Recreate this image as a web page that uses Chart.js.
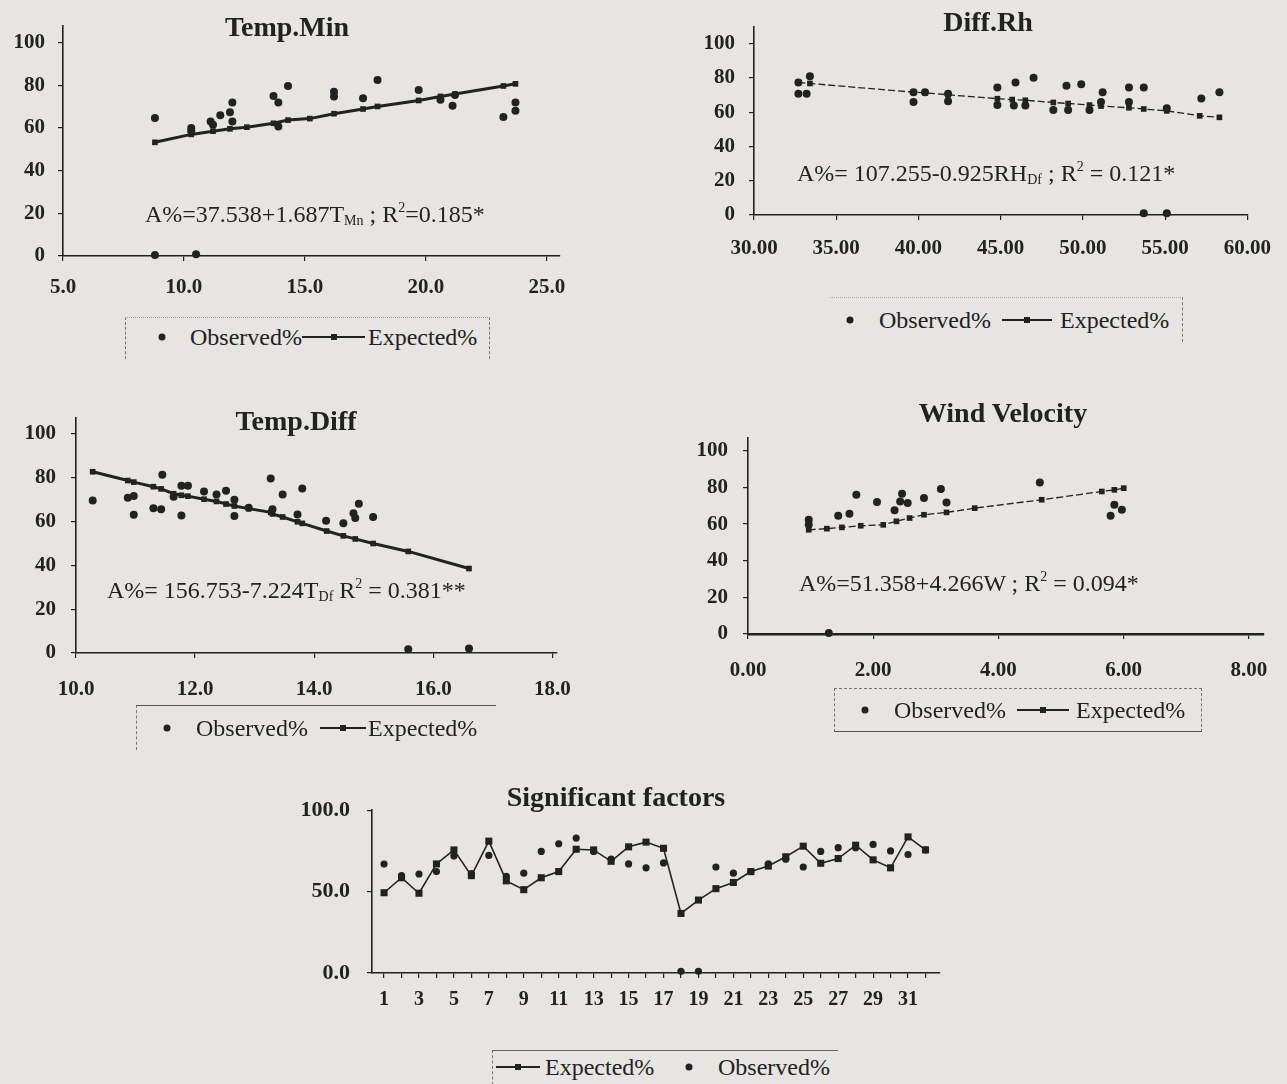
<!DOCTYPE html>
<html>
<head>
<meta charset="utf-8">
<script src="https://cdn.jsdelivr.net/npm/chart.js@4.4.1/dist/chart.umd.min.js"></script>
<style>
  body { margin: 0; background: #e7e5e1; }
  #page { position: relative; width: 1287px; height: 1084px; overflow: hidden;
          font-family: "Liberation Serif", "Times New Roman", serif; color: #222; }
  canvas { position: absolute; }
  .title { position: absolute; font-weight: bold; font-size: 28px; line-height: 1;
           transform: translate(-50%, -50%); white-space: nowrap; }
  .eq { position: absolute; font-size: 24px; line-height: 1; white-space: nowrap; transform: translateY(-50%); }
  .eq sub { font-size: 14px; vertical-align: -3px; }
  .eq sup { font-size: 14px; vertical-align: 10px; }
  .box { position: absolute; box-sizing: border-box; }
  .txt { position: absolute; font-size: 24px; line-height: 1; white-space: nowrap; transform: translateY(-50%); }
  .dot { position: absolute; width: 7px; height: 7px; border-radius: 50%; background: #222;
         transform: translate(-50%, -50%); }
  .line { position: absolute; height: 2px; background: #222; transform: translateY(-50%); }
  .line i { position: absolute; left: 50%; top: 50%; width: 6px; height: 6px; background: #222;
            transform: translate(-50%, -50%); }
</style>
</head>
<body>
<div id="page">
  <canvas id="c1" width="590" height="310" style="left:0;top:0"></canvas>
  <canvas id="c2" width="597" height="280" style="left:690px;top:0"></canvas>
  <canvas id="c3" width="590" height="320" style="left:0;top:390px"></canvas>
  <canvas id="c4" width="597" height="310" style="left:690px;top:390px"></canvas>
  <canvas id="c5" width="700" height="250" style="left:270px;top:780px"></canvas>

  <div class="title" style="left:287px;top:27px">Temp.Min</div>
  <div class="title" style="left:988px;top:22px">Diff.Rh</div>
  <div class="title" style="left:296px;top:421px">Temp.Diff</div>
  <div class="title" style="left:1003px;top:413px">Wind Velocity</div>
  <div class="title" style="left:616px;top:797px">Significant factors</div>

  <div class="eq" style="left:145px;top:214px">A%=37.538+1.687T<sub>Mn</sub> ; R<sup>2</sup>=0.185*</div>
  <div class="eq" style="left:797px;top:173px">A%= 107.255-0.925RH<sub>Df</sub> ; R<sup>2</sup> = 0.121*</div>
  <div class="eq" style="left:107px;top:590px">A%= 156.753-7.224T<sub>Df</sub> R<sup>2</sup> = 0.381**</div>
  <div class="eq" style="left:799px;top:582px">A%=51.358+4.266W ; R<sup>2</sup> = 0.094*</div>

  <!-- legends -->
  <div class="box" style="left:125px;top:317px;width:365px;height:42px;border-top:1px dotted #999;border-left:1px dashed #777;border-right:1px dashed #777"></div>
  <div class="dot" style="left:162px;top:337px"></div>
  <div class="txt" style="left:190px;top:337px">Observed%</div>
  <div class="line" style="left:302px;top:337px;width:63px"><i></i></div>
  <div class="txt" style="left:368px;top:337px">Expected%</div>

  <div class="box" style="left:830px;top:297px;width:353px;height:45px;border-top:1px dotted #aaa;border-right:1px dashed #777"></div>
  <div class="dot" style="left:850px;top:320px"></div>
  <div class="txt" style="left:879px;top:320px">Observed%</div>
  <div class="line" style="left:1002px;top:320px;width:50px"><i></i></div>
  <div class="txt" style="left:1060px;top:320px">Expected%</div>

  <div class="box" style="left:136px;top:705px;width:360px;height:45px;border-top:1.5px solid #555;border-left:1px dashed #777"></div>
  <div class="dot" style="left:167px;top:728px"></div>
  <div class="txt" style="left:196px;top:728px">Observed%</div>
  <div class="line" style="left:320px;top:728px;width:46px"><i></i></div>
  <div class="txt" style="left:368px;top:728px">Expected%</div>

  <div class="box" style="left:834px;top:688px;width:368px;height:44px;border-top:1px dashed #777;border-bottom:1.5px solid #555;border-left:1px dashed #777;border-right:1px dashed #777"></div>
  <div class="dot" style="left:865px;top:710px"></div>
  <div class="txt" style="left:894px;top:710px">Observed%</div>
  <div class="line" style="left:1017px;top:710px;width:52px"><i></i></div>
  <div class="txt" style="left:1076px;top:710px">Expected%</div>

  <div class="box" style="left:492px;top:1050px;width:346px;height:40px;border-top:1.5px solid #666;border-left:1px dashed #777"></div>
  <div class="line" style="left:496px;top:1067px;width:44px"><i></i></div>
  <div class="txt" style="left:545px;top:1067px">Expected%</div>
  <div class="dot" style="left:689px;top:1067px"></div>
  <div class="txt" style="left:718px;top:1067px">Observed%</div>
</div>

<script>
// Temp.Min
const tminObsX = [8.8, 10.3, 10.3, 11.1, 11.2, 11.5, 11.9, 12.0, 12.0, 13.7, 13.9, 13.9, 14.3, 16.2, 16.2, 17.4, 18.0, 19.7, 20.6, 21.1, 21.2, 23.2, 23.7, 23.7, 8.8, 10.5];
const tminObsY = [64.7, 60.0, 58.5, 63.0, 61.5, 66.0, 67.4, 72.0, 63.0, 75.0, 72.0, 60.7, 79.7, 77.0, 74.8, 74.0, 82.5, 77.8, 73.3, 70.4, 75.5, 65.2, 68.1, 71.9, 0.5, 0.8];
const tminExpX = [8.8, 10.3, 11.2, 11.9, 12.6, 13.7, 14.3, 15.2, 16.2, 17.4, 18.0, 19.7, 20.6, 21.2, 23.2, 23.7];
const tminExpY = [53.3, 57.0, 58.5, 59.6, 60.4, 62.2, 63.7, 64.4, 66.7, 68.9, 70.1, 72.9, 74.8, 75.9, 79.7, 80.7];

// Diff.Rh
const rhObsX = [32.7, 32.7, 33.2, 33.4, 39.7, 39.7, 40.4, 41.8, 41.8, 44.8, 44.8, 45.9, 45.8, 47.0, 46.5, 48.2, 49.0, 49.9, 49.1, 51.2, 51.1, 50.4, 52.8, 53.7, 52.8, 55.1, 57.2, 58.3, 53.7, 55.1];
const rhObsY = [77.4, 70.8, 70.8, 81.0, 71.7, 66.0, 71.7, 70.8, 66.4, 74.5, 64.2, 77.4, 64.0, 80.2, 64.0, 61.3, 75.5, 76.4, 61.3, 71.7, 66.0, 61.3, 74.5, 74.5, 66.0, 62.3, 68.0, 71.7, 1.0, 1.0];
const rhExpX = [32.7, 33.4, 39.7, 40.4, 41.8, 44.8, 45.7, 46.5, 48.2, 49.1, 50.4, 51.1, 52.8, 53.7, 55.1, 57.1, 58.3];
const rhExpY = [77.4, 76.8, 71.7, 71.3, 70.2, 67.9, 67.4, 67.0, 65.7, 65.1, 64.2, 63.6, 62.6, 61.9, 60.8, 57.9, 57.0];

// Temp.Diff
const tdObsX = [10.28, 10.87, 10.97, 10.97, 11.3, 11.43, 11.45, 11.64, 11.77, 11.77, 11.88, 12.15, 12.36, 12.52, 12.66, 12.66, 12.9, 13.27, 13.3, 13.47, 13.72, 13.8, 14.2, 14.49, 14.66, 14.69, 14.75, 14.99, 15.58, 16.6];
const tdObsY = [69.5, 70.8, 71.6, 63.0, 66.0, 65.5, 81.2, 71.2, 62.7, 76.2, 76.2, 73.6, 72.2, 74.0, 69.8, 62.4, 66.2, 79.5, 65.5, 72.2, 63.1, 75.0, 60.3, 59.1, 63.7, 61.5, 68.0, 62.0, 1.7, 2.1];
const tdExpX = [10.28, 10.87, 10.97, 11.3, 11.43, 11.64, 11.77, 11.88, 12.15, 12.36, 12.52, 12.66, 12.9, 13.27, 13.3, 13.47, 13.72, 13.8, 14.21, 14.49, 14.69, 14.99, 15.58, 16.6];
const tdExpY = [82.6, 78.6, 77.9, 75.8, 74.8, 72.6, 71.9, 71.5, 70.1, 69.1, 67.9, 67.0, 65.8, 64.1, 63.4, 62.0, 59.8, 59.1, 55.6, 53.4, 52.0, 49.9, 46.3, 38.5];

// Wind Velocity
const windObsX = [0.97, 0.97, 1.44, 1.62, 1.73, 2.06, 2.34, 2.46, 2.43, 2.55, 2.81, 3.08, 3.17, 4.66, 5.79, 5.85, 5.97, 1.29];
const windObsY = [62.4, 59.6, 64.5, 65.6, 76.0, 72.0, 67.5, 76.5, 72.4, 71.5, 74.2, 79.1, 71.8, 82.7, 64.5, 70.5, 67.8, 0.5];
const windExpX = [0.97, 1.26, 1.50, 1.80, 2.16, 2.37, 2.58, 2.81, 3.17, 3.62, 4.69, 5.65, 5.85, 6.00];
const windExpY = [56.9, 57.5, 58.2, 59.1, 59.6, 61.5, 63.3, 65.1, 66.4, 68.7, 73.3, 77.8, 78.7, 79.6];

// Significant factors
const days = [1, 2, 3, 4, 5, 6, 7, 8, 9, 10, 11, 12, 13, 14, 15, 16, 17, 18, 19, 20, 21, 22, 23, 24, 25, 26, 27, 28, 29, 30, 31, 32];
const sigExpected = [49.3, 58.5, 49.0, 67.0, 75.6, 59.8, 81.0, 56.6, 51.2, 58.5, 62.3, 76.0, 75.6, 68.6, 77.5, 80.4, 76.6, 36.6, 44.8, 51.8, 55.6, 62.3, 65.7, 71.4, 77.9, 67.4, 70.3, 78.5, 69.5, 64.6, 83.6, 75.6];
const sigObserved = [66.9, 59.8, 60.8, 62.3, 71.8, 61.0, 72.2, 59.4, 61.3, 74.7, 79.4, 82.9, 74.7, 69.9, 67.0, 64.6, 67.6, 1.0, 1.0, 65.1, 61.3, 62.3, 67.0, 69.9, 65.1, 74.7, 77.0, 77.0, 79.0, 75.0, 72.8, 75.6];

const ink = '#222';
const serif = '"Liberation Serif", "Times New Roman", serif';

function pairs(xs, ys) {
  return xs.map((x, i) => ({ x, y: ys[i] }));
}

function axis(min, max, step, size, pad, fmt, fontSize = 21, lineW = 1.6) {
  return {
    type: 'linear',
    min, max,
    border: { display: true, color: ink, width: lineW },
    grid: { display: true, drawOnChartArea: false, drawTicks: true, tickLength: 5, color: ink, lineWidth: 1.2 },
    ticks: {
      stepSize: step, includeBounds: false, autoSkip: false, maxRotation: 0,
      color: ink, padding: pad,
      font: { family: serif, size: fontSize, weight: 'bold' },
      callback: fmt,
    },
    afterFit: (s) => { if (s.isHorizontal()) s.height = size; else s.width = size; },
  };
}

function observed(xs, ys, r = 4) {
  return {
    data: pairs(xs, ys), showLine: false, clip: false,
    pointStyle: 'circle', pointRadius: r, pointBorderWidth: 0,
    backgroundColor: ink, borderColor: ink,
  };
}

function expected(xs, ys, width, dash, r = 4) {
  return {
    data: pairs(xs, ys), showLine: true, clip: false, tension: 0,
    borderColor: ink, borderWidth: width, borderDash: dash,
    pointStyle: 'rect', pointRadius: r, pointBorderWidth: 0,
    pointBackgroundColor: ink, backgroundColor: ink,
  };
}

function make(id, padding, x, y, datasets) {
  return new Chart(document.getElementById(id), {
    type: 'scatter',
    data: { datasets },
    options: {
      responsive: false, animation: false, devicePixelRatio: 1,
      layout: { padding },
      plugins: { legend: { display: false }, tooltip: { enabled: false } },
      scales: { x, y },
    },
  });
}

const fix1 = (v) => Number(v).toFixed(1);
const fix2 = (v) => Number(v).toFixed(2);
const int = (v) => String(v);

make('c1', { top: 13, right: 30 },
  axis(5, 25.54, 5, 54, 14, fix1),
  axis(0, 108, 20, 63, 13, int),
  [observed(tminObsX, tminObsY), expected(tminExpX, tminExpY, 3, [])]);

make('c2', { top: 22, right: 29 },
  axis(30, 60, 5, 65, 16, fix2),
  axis(0, 110, 20, 64, 14, int),
  [observed(rhObsX, rhObsY), expected(rhExpX, rhExpY, 1.3, [7, 3])]);

make('c3', { top: 12, right: 30 },
  axis(10, 18.07, 2, 57, 19, fix1),
  axis(0, 107.3, 20, 76, 15, int),
  [observed(tdObsX, tdObsY), expected(tdExpX, tdExpY, 3, [])]);

make('c4', { top: 48, right: 22 },
  axis(0, 8.24, 2, 66, 19, fix2, 21, 2.4),
  axis(0, 107, 20, 58, 15, int),
  [observed(windObsX, windObsY), expected(windExpX, windExpY, 1.3, [7, 3])]);

make('c5', { top: 21, right: 30 },
  axis(0.31, 32.83, 1, 57, 10, (v) => (v % 2 === 1 ? String(v) : ''), 20),
  axis(0, 100, 50, 102, 17, fix1, 22),
  [expected(days, sigExpected, 1.6, [], 5), observed(days, sigObserved, 3.6)]);
</script>
</body>
</html>
